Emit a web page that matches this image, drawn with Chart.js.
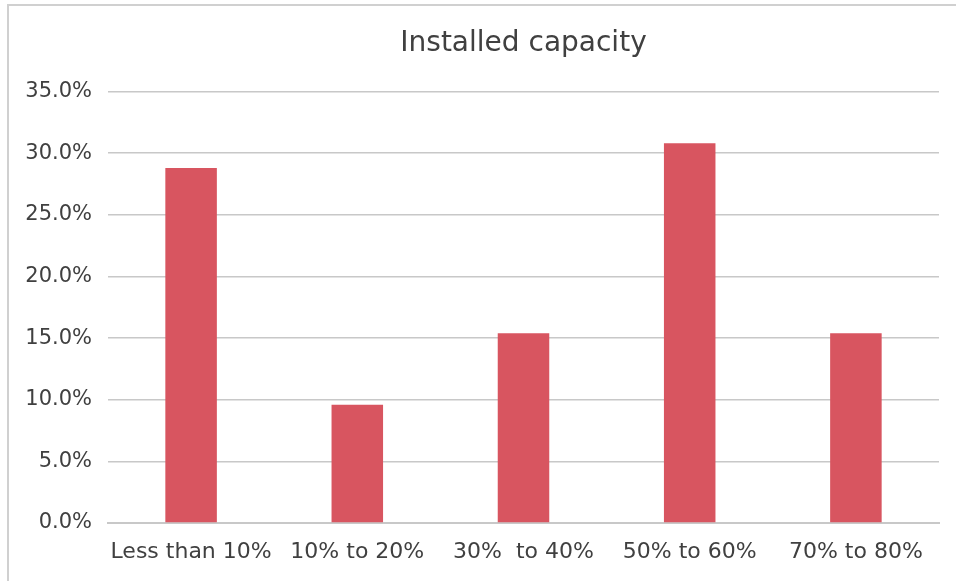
<!DOCTYPE html>
<html>
<head>
<meta charset="utf-8">
<script src="https://cdn.jsdelivr.net/npm/chart.js@4"></script>
<style>
  html, body { margin: 0; padding: 0; background: #fff; }
  #wrap { position: relative; width: 956px; height: 581px; }
</style>
</head>
<body>
<div id="wrap"><canvas id="myChart" width="956" height="581"></canvas></div>
<script>
const categories = ['Less than 10%', '10% to 20%', '30%  to 40%', '50% to 60%', '70% to 80%'];
const shares = [28.8, 9.6, 15.4, 30.8, 15.4];
const tickStep = 5;
const tickMax = 35;

const textColor = '#404040';
const fontFamily = '"DejaVu Sans", sans-serif';

// light frame like the exported chart box
const framePlugin = {
    id: 'frame',
    beforeDraw(chart) {
        const c = chart.ctx;
        c.save();
        c.strokeStyle = '#d0d0d0';
        c.lineWidth = 2;
        c.strokeRect(8, 5, 1000, 700);
        c.restore();
    }
};

var ctx = document.getElementById('myChart').getContext('2d');
new Chart(ctx, {
    type: 'bar',
    data: {
        labels: categories,
        datasets: [{
            label: 'Installed capacity',
            data: shares,
            backgroundColor: '#d85560',
            borderWidth: 0,
            categoryPercentage: 1,
            barPercentage: 0.31
        }]
    },
    options: {
        responsive: false,
        animation: false,
        layout: {
            padding: { left: 0, right: 17, top: 0, bottom: 0 }
        },
        plugins: {
            legend: { display: false },
            tooltip: { enabled: false },
            title: {
                display: true,
                fullSize: false,
                text: 'Installed capacity',
                color: textColor,
                font: { family: fontFamily, size: 28, weight: 'normal' },
                padding: { top: 27, bottom: 31 }
            }
        },
        scales: {
            x: {
                grid: { display: false, drawTicks: false },
                border: { display: true, color: '#c8c8c8', width: 2 },
                ticks: {
                    color: textColor,
                    font: { family: fontFamily, size: 22 },
                    padding: 16,
                    maxRotation: 0,
                    autoSkip: false
                },
                afterFit(scale) { scale.height = 58; }
            },
            y: {
                min: 0,
                max: tickMax,
                grid: { color: '#c8c8c8', lineWidth: 1.5, drawTicks: false },
                border: { display: false },
                ticks: {
                    stepSize: tickStep,
                    color: textColor,
                    font: { family: fontFamily, size: 21 },
                    padding: 16,
                    callback: (v) => v.toFixed(1) + '%'
                },
                afterFit(scale) { scale.width = 108; }
            }
        }
    },
    plugins: [framePlugin]
});
</script>
</body>
</html>
